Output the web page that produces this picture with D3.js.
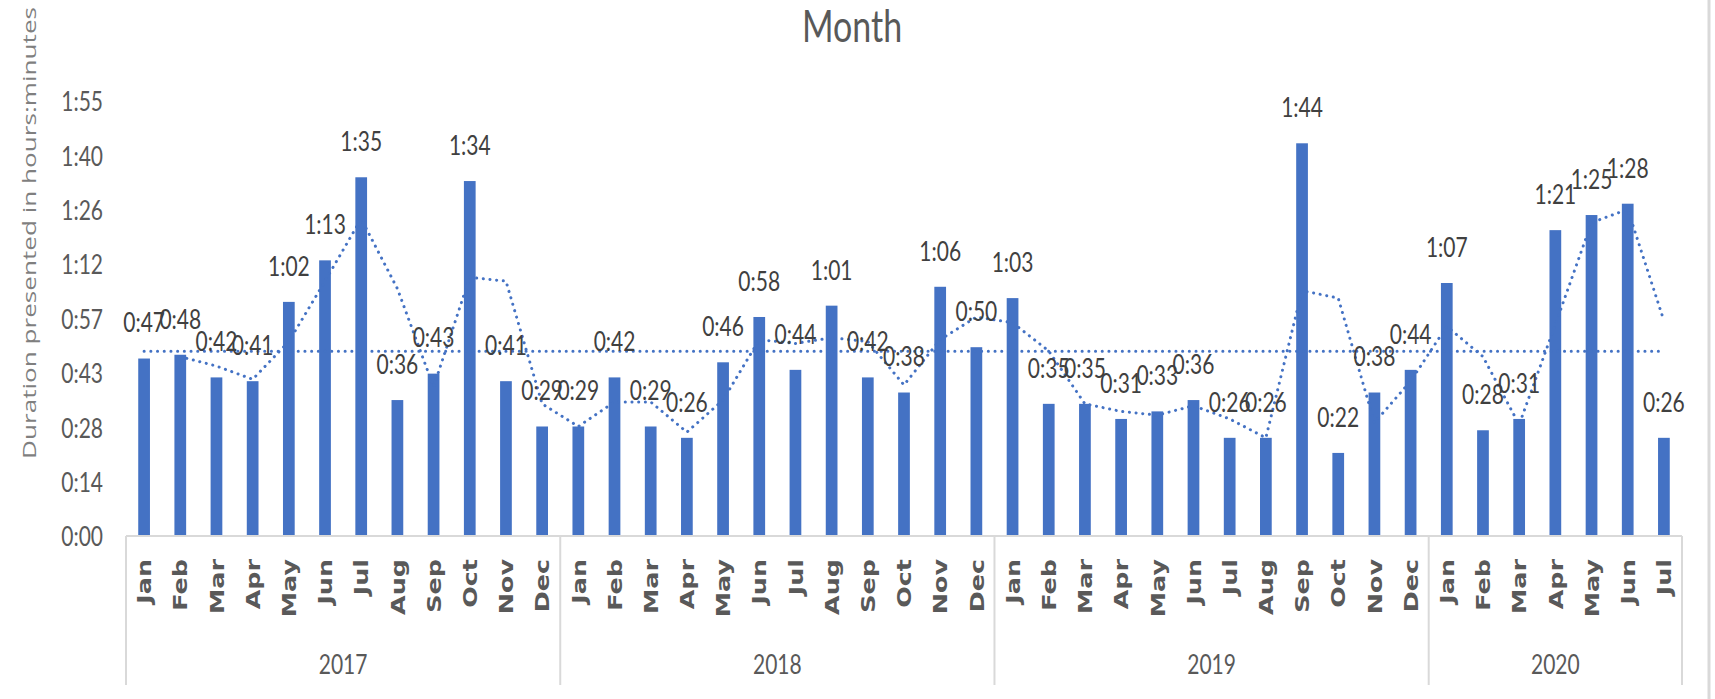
<!DOCTYPE html>
<html>
<head>
<meta charset="utf-8">
<script src="https://cdn.jsdelivr.net/npm/d3@7"></script>
<style>
  body { margin: 0; background: #ffffff; }
  svg { display: block; }
</style>
</head>
<body>
<div id="MonthChart"></div>
<script>
// Monthly durations, in minutes
var years = ['2017', '2018', '2019', '2020'];
var monthNames = ['Jan', 'Feb', 'Mar', 'Apr', 'May', 'Jun', 'Jul', 'Aug', 'Sep', 'Oct', 'Nov', 'Dec'];
var values2017 = [47, 48, 42, 41, 62, 73, 95, 36, 43, 94, 41, 29];
var values2018 = [29, 42, 29, 26, 46, 58, 44, 61, 42, 38, 66, 50];
var values2019 = [63, 35, 35, 31, 33, 36, 26, 26, 104, 22, 38, 44];
var values2020 = [67, 28, 31, 81, 85, 88, 26];
// 2 period moving average trendline, read from Feb 2017 onwards
var trendValues = [47.5, 45, 41.5, 51.5, 67.5, 84, 65.5, 39.5, 68.5, 67.5, 35,
                   29, 35.5, 35.5, 27.5, 36, 52, 51, 52.5, 51.5, 40, 52, 58,
                   56.5, 49, 35, 33, 32, 34.5, 31, 26, 65, 63, 30, 41,
                   55.5, 47.5, 29.5, 56, 83, 86.5, 57];
var averageValue = 48.9;
var yTicks = [0, 14.4, 28.8, 43.2, 57.6, 72, 86.4, 100.8, 115.2];
var yTickLabels = ['0:00', '0:14', '0:28', '0:43', '0:57', '1:12', '1:26', '1:40', '1:55'];

var blue = '#4472C4';
var labelFont = 'Lato, "Open Sans", sans-serif';
var stretch = 1.3; // the source picture is taller than wide

function fmt_time(m) {
    var h = Math.floor(m / 60);
    var mm = Math.round(m - h * 60);
    return h + ':' + (mm < 10 ? '0' + mm : mm);
}

// places a horizontal text at (x, y), stretched vertically round that point
function tall_text(sel, x, y) {
    return sel.attr('transform', function(d, i) {
            var xx = typeof x === 'function' ? x(d, i) : x;
            var yy = typeof y === 'function' ? y(d, i) : y;
            return 'translate(' + xx + ',' + yy + ') scale(1,' + stretch + ')';
        })
        .attr('dy', '0.36em');
}

function build_chart() {
    var W = 1715, H = 699;
    var svg = d3.select('#MonthChart').append('svg')
        .attr('width', W)
        .attr('height', H);

    // flatten into one row per month
    var rows = [];
    var all = [values2017, values2018, values2019, values2020];
    all.forEach(function(vals, yi) {
        vals.forEach(function(v, mi) {
            rows.push({ key: years[yi] + '-' + mi, year: years[yi], month: monthNames[mi], value: v });
        });
    });
    var trend = trendValues.map(function(v, i) { return { key: rows[i + 1].key, value: v }; });

    var left = 126, right = 1682, base = 536, top = 101;
    var x = d3.scaleBand()
        .domain(rows.map(function(d) { return d.key; }))
        .range([left, right])
        .paddingInner(0.676)
        .paddingOuter(0.338);
    var y = d3.scaleLinear().domain([0, 115.2]).range([base, top]);
    var cx = function(k) { return x(k) + x.bandwidth() / 2; };

    // right edge border
    svg.append('line')
        .attr('x1', 1709).attr('x2', 1709).attr('y1', 0).attr('y2', H)
        .style('stroke', '#d9d9d9').style('stroke-width', 3);

    // title
    tall_text(svg.append('text'), 852, 26)
        .attr('text-anchor', 'middle')
        .style('font-family', labelFont).style('font-size', '34px')
        .style('fill', '#595959')
        .text('Month');

    // y axis title
    svg.append('text')
        .attr('transform', 'translate(36,233) rotate(-90)')
        .attr('text-anchor', 'middle')
        .attr('textLength', 452).attr('lengthAdjust', 'spacingAndGlyphs')
        .style('font-family', '"Open Sans", "DejaVu Sans", sans-serif').style('font-size', '18px')
        .style('fill', '#7f7f7f')
        .text('Duration presented in hours:minutes');

    // y tick labels (no axis line)
    var yAxis = svg.append('g').attr('class', 'axis')
        .attr('transform', 'translate(' + left + ',0)')
        .call(d3.axisLeft(y).tickValues(yTicks)
            .tickFormat(function(d, i) { return yTickLabels[i]; })
            .tickSize(0));
    yAxis.select('.domain').remove();
    tall_text(yAxis.selectAll('text').attr('x', null), -23, 0)
        .style('font-family', labelFont).style('font-size', '21px')
        .style('fill', '#595959');

    // bars
    svg.selectAll('.bar').data(rows).enter().append('rect')
        .attr('class', 'bar')
        .attr('x', function(d) { return x(d.key); })
        .attr('y', function(d) { return y(d.value); })
        .attr('width', x.bandwidth())
        .attr('height', function(d) { return base - y(d.value); })
        .style('fill', blue);

    // average line
    svg.append('line')
        .attr('x1', cx(rows[0].key)).attr('x2', cx(rows[rows.length - 1].key))
        .attr('y1', y(averageValue)).attr('y2', y(averageValue))
        .style('stroke', blue).style('stroke-width', 3)
        .style('stroke-linecap', 'round')
        .style('stroke-dasharray', '0.1 6.6');

    // moving average trendline
    var trendline = d3.line()
        .x(function(d) { return cx(d.key); })
        .y(function(d) { return y(d.value); });
    svg.append('path')
        .datum(trend)
        .attr('d', trendline)
        .style('fill', 'none')
        .style('stroke', blue).style('stroke-width', 3)
        .style('stroke-linecap', 'round')
        .style('stroke-dasharray', '0.1 6.6');

    // category axis: baseline and year separators
    svg.append('line')
        .attr('x1', left).attr('x2', right).attr('y1', base).attr('y2', base)
        .style('stroke', '#d9d9d9').style('stroke-width', 2);
    var step = x.step();
    var sepIdx = [0, 12, 24, 36, rows.length];
    sepIdx.forEach(function(i) {
        var sx = left + i * step;
        svg.append('line')
            .attr('x1', sx).attr('x2', sx).attr('y1', base).attr('y2', 685)
            .style('stroke', '#d9d9d9').style('stroke-width', 2);
    });

    // month labels
    svg.selectAll('.month').data(rows).enter().append('g')
        .attr('class', 'month')
        .attr('transform', function(d) { return 'translate(' + cx(d.key) + ',559)'; })
        .append('text')
        .attr('transform', 'scale(1,1.27) rotate(-90)')
        .attr('text-anchor', 'end')
        .attr('dy', '0.36em')
        .style('font-family', '"DejaVu Sans", sans-serif').style('font-size', '20px')
        .style('font-weight', 'bold')
        .style('fill', '#595959')
        .text(function(d) { return d.month; });

    // year labels
    years.forEach(function(yr, i) {
        var a = left + sepIdx[i] * step, b = left + sepIdx[i + 1] * step;
        tall_text(svg.append('text'), (a + b) / 2, 664)
            .attr('text-anchor', 'middle')
            .style('font-family', labelFont).style('font-size', '21px')
            .style('fill', '#595959')
            .text(yr);
    });

    // data labels
    tall_text(svg.selectAll('.dlabel').data(rows).enter().append('text'),
            function(d) { return cx(d.key); },
            function(d) { return y(d.value) - 36; })
        .attr('class', 'dlabel')
        .attr('text-anchor', 'middle')
        .style('font-family', labelFont).style('font-size', '21px')
        .style('fill', '#404040')
        .text(function(d) { return fmt_time(d.value); });
}

build_chart();
</script>
</body>
</html>
